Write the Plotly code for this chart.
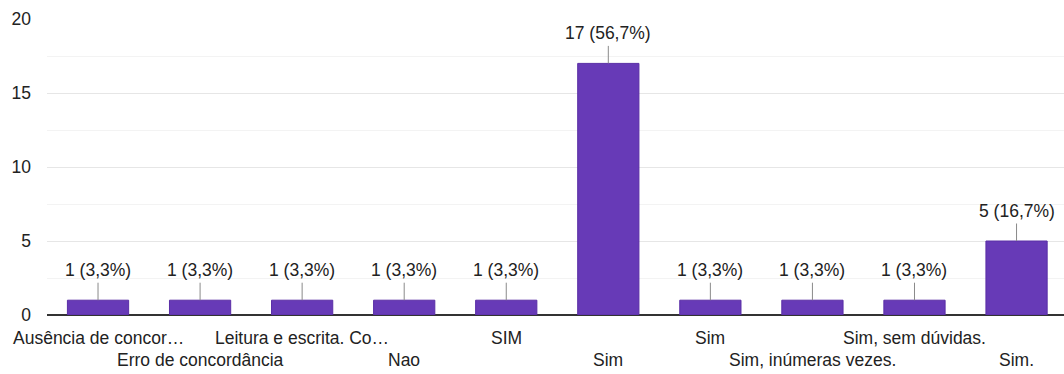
import plotly.graph_objects as go

# Answer categories (some labels repeat, so a numeric axis is used)
categories = [
    "Ausência de concor…",
    "Erro de concordância",
    "Leitura e escrita. Co…",
    "Nao",
    "SIM",
    "Sim",
    "Sim",
    "Sim, inúmeras vezes.",
    "Sim, sem dúvidas.",
    "Sim.",
]
counts = [1, 1, 1, 1, 1, 17, 1, 1, 1, 5]
y_ticks = [0, 5, 10, 15, 20]

total = sum(counts)
positions = list(range(len(categories)))

FONT = "Liberation Sans, Arial, sans-serif"
TEXT = "#222222"
SIZE = 17.5

fig = go.Figure()
fig.add_trace(go.Bar(
    x=positions,
    y=counts,
    width=0.6,
    marker=dict(color="#673ab7", line=dict(color="#5a2ea6", width=1)),
    hoverinfo="skip",
))

annotations = []
# value labels with a short leader line down to the bar
for x, v in zip(positions, counts):
    pct = f"{v / total * 100:.1f}".replace(".", ",")
    annotations.append(dict(
        x=x, y=v, xref="x", yref="y",
        text=f"{v} ({pct}%)",
        showarrow=True, arrowhead=0, arrowwidth=1, arrowcolor="#8a8a8a",
        ax=0, ay=-30, startstandoff=1,
        font=dict(family=FONT, size=SIZE, color=TEXT),
    ))

# category labels staggered over two rows
for x, label in zip(positions, categories):
    row = x % 2
    annotations.append(dict(
        x=x, y=0, xref="x", yref="paper",
        text=label, showarrow=False,
        yanchor="middle", yshift=-23 - 22 * row,
        font=dict(family=FONT, size=SIZE, color=TEXT),
    ))

fig.update_layout(
    width=1064, height=374,
    margin=dict(l=47, r=0, t=19, b=59),
    paper_bgcolor="white", plot_bgcolor="white",
    showlegend=False,
    annotations=annotations,
    xaxis=dict(
        range=[-0.5, 9.465],
        showticklabels=False, showgrid=False, zeroline=False,
        showline=False, fixedrange=True,
    ),
    yaxis=dict(
        range=[0, 20],
        tickvals=y_ticks,
        tickfont=dict(family=FONT, size=SIZE, color=TEXT),
        showgrid=True, gridcolor="#e6e6e6", gridwidth=1,
        minor=dict(dtick=2.5, showgrid=True, gridcolor="#f3f3f3", gridwidth=1),
        zeroline=True, zerolinecolor="#333333", zerolinewidth=2,
        ticks="", ticklabelstandoff=15,
        fixedrange=True,
    ),
)

fig.write_html("out.html")
